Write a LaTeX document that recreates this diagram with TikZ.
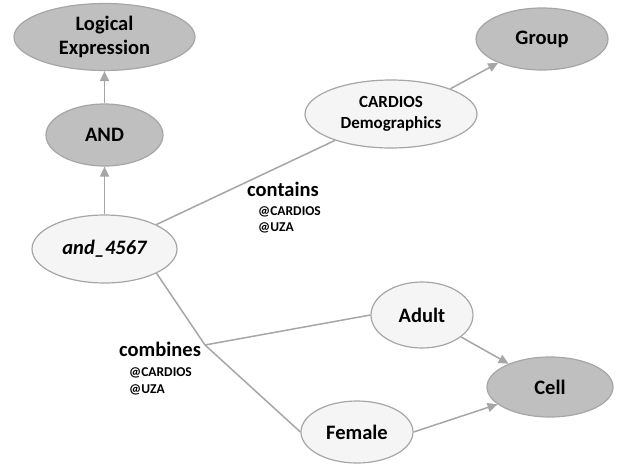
\documentclass[tikz,border=0pt]{standalone}
\usepackage{fontspec}
\setmainfont{Carlito}
\usetikzlibrary{shapes.geometric,arrows.meta}
\definecolor{nodegray}{HTML}{BFBFBF}
\definecolor{nodelight}{HTML}{F5F5F5}
\definecolor{edgegray}{HTML}{A6A6A6}
\begin{document}
\begin{tikzpicture}[x=1pt,y=-1pt,
  base/.style={ellipse, draw=edgegray, line width=1.2pt, inner sep=0pt,
    font=\fontsize{20.5}{24}\selectfont\bfseries, align=center},
  classnode/.style={base, fill=nodegray},
  instnode/.style={base, fill=nodelight},
  link/.style={draw=edgegray, line width=1.5pt},
  arrowlink/.style={link, -{Triangle[length=10pt,width=9pt]}},
  rel/.style={font=\fontsize{20.5}{24}\selectfont\bfseries, inner sep=0pt, anchor=base west},
  src/.style={font=\fontsize{13.5}{16}\selectfont\bfseries, inner sep=0pt, anchor=base west}
]
\useasboundingbox (0,0) rectangle (627,466);

% class nodes
\node[classnode, minimum width=181pt, minimum height=67pt] (logic) at (104.5,37) {Logical\\Expression};
\node[classnode, minimum width=117pt, minimum height=62pt] (and) at (104.5,135) {AND};
\node[classnode, minimum width=132pt, minimum height=62pt] (group) at (542,39) {Group};
\node[classnode, minimum width=126pt, minimum height=60pt] (cell) at (550,387) {Cell};

% instance nodes
\node[instnode, minimum width=145pt, minimum height=68pt,
  font=\fontsize{20.5}{24}\selectfont\bfseries\itshape] (and4567) at (104.5,249) {and\_4567};
\node[instnode, minimum width=172pt, minimum height=68pt,
  font=\fontsize{17}{21}\selectfont\bfseries] (cardios) at (391,114) {CARDIOS\\Demographics};
\node[instnode, minimum width=102pt, minimum height=66pt] (adult) at (422,315) {Adult};
\node[instnode, minimum width=112pt, minimum height=62pt] (female) at (357,432) {Female};

% branching point of the "combines" relation
\coordinate (join) at (205,345);

% type arrows
\draw[arrowlink] (and) -- (logic);
\draw[arrowlink] (and4567) -- (and);
\draw[arrowlink] (cardios.23) -- (group);
\draw[arrowlink] (adult) -- (cell);
\draw[arrowlink] (female.east) -- (cell);

% relations
\draw[link] (and4567) -- (cardios);
\draw[link] (and4567.-25) -- (join);
\draw[link] (join) -- (adult.west);
\draw[link] (join) -- (female.west);

% relation labels
\node[rel] (containslbl) at (247,196.5) {contains};
\node[src] (containsa) at (258,215) {@CARDIOS};
\node[src] (containsb) at (258,231.5) {@UZA};
\node[rel] (combineslbl) at (119,356.5) {combines};
\node[src] (combinesa) at (129,376.5) {@CARDIOS};
\node[src] (combinesb) at (129,393) {@UZA};
\end{tikzpicture}
\end{document}
